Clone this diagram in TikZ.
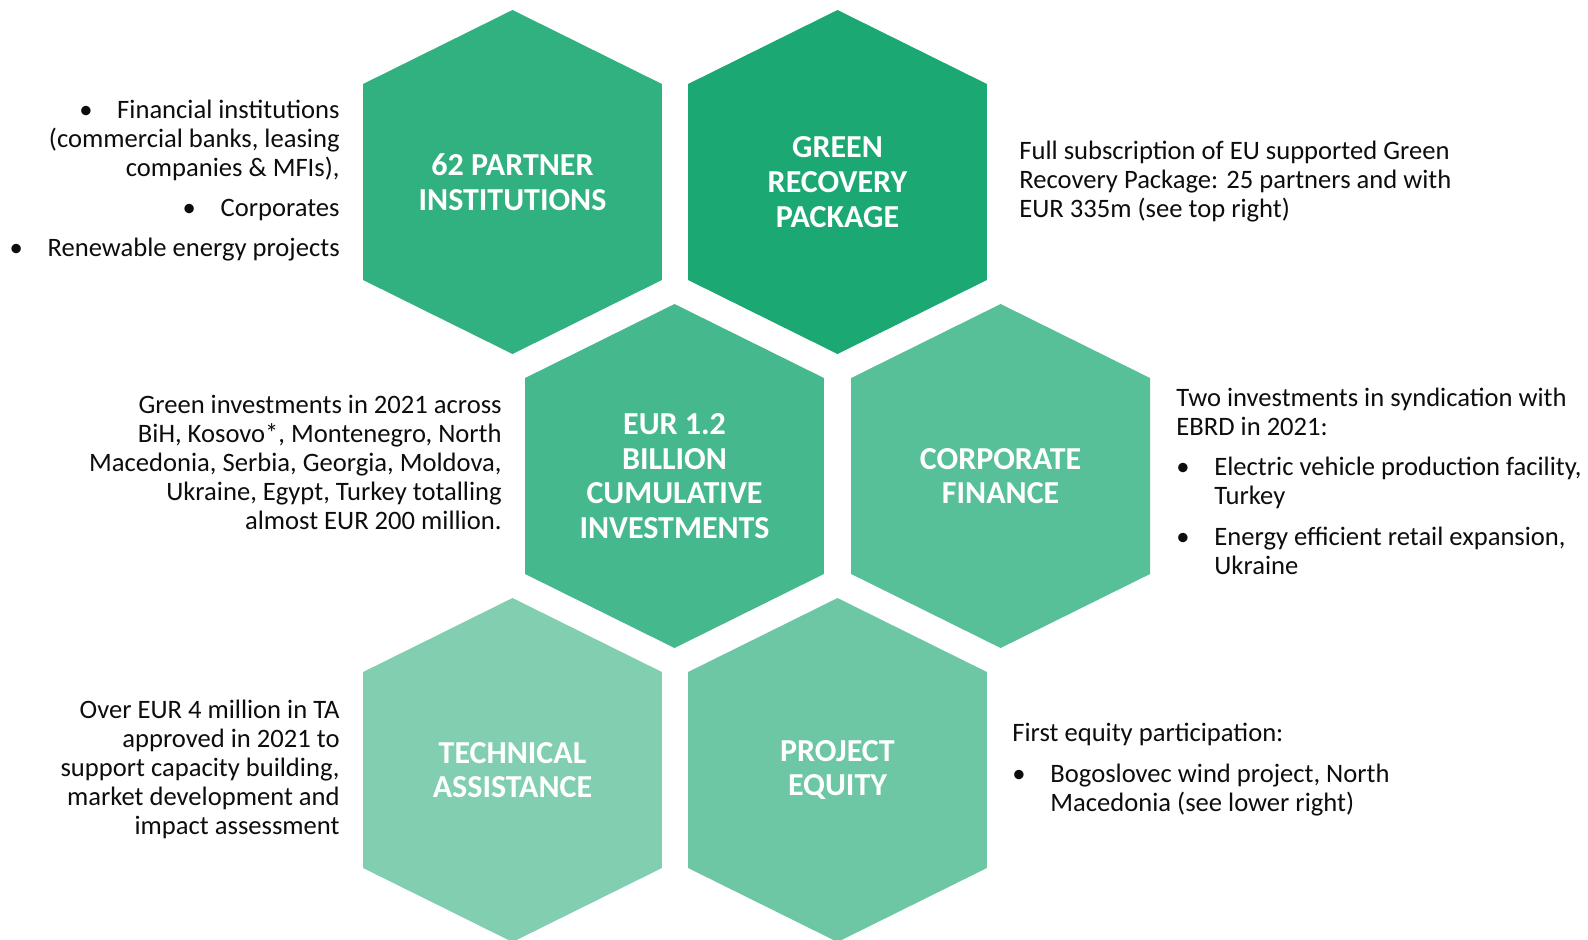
\documentclass[tikz,border=0pt]{standalone}
\usepackage{fontspec}
\setmainfont{Carlito}
\definecolor{hexA}{RGB}{49,176,128}
\definecolor{hexB}{RGB}{27,168,115}
\definecolor{hexC}{RGB}{70,184,141}
\definecolor{hexD}{RGB}{88,192,153}
\definecolor{hexE}{RGB}{129,207,176}
\definecolor{hexF}{RGB}{109,199,165}
\definecolor{txt}{RGB}{13,13,13}
\newcommand\hexcell[3]{%
  \fill[#3] ($(#1,#2)+(0,-172)$) -- ++(149.4,74) -- ++(0,196) -- ++(-149.4,74)
    -- ++(-149.4,-74) -- ++(0,-196) -- cycle;}
\newcommand\bul{\makebox[19pt][l]{\textbullet}}
\usetikzlibrary{calc}
\begin{document}
\begin{tikzpicture}[x=0.5pt,y=-0.5pt,
  hextext/.style={text=white,font=\bfseries\fontsize{16}{17.4}\selectfont,align=center,inner sep=0pt},
  side/.style={text=txt,font=\fontsize{13.3}{14.45}\selectfont,inner sep=0pt}]
\useasboundingbox (0,0) rectangle (1588,939);
\clip (0,0) rectangle (1588,939);
\hexcell{512.5}{182}{hexA}
\hexcell{837.5}{182}{hexB}
\hexcell{674.5}{476}{hexC}
\hexcell{1000.6}{476}{hexD}
\hexcell{512.5}{770}{hexE}
\hexcell{837.5}{770}{hexF}
\node[hextext] (tA) at (512.5,182) {62 PARTNER\\INSTITUTIONS};
\node[hextext] (tB) at (837.5,182) {GREEN\\RECOVERY\\PACKAGE};
\node[hextext] (tC) at (674.5,476) {EUR 1.2\\BILLION\\CUMULATIVE\\INVESTMENTS};
\node[hextext] (tD) at (1000.6,476) {CORPORATE\\FINANCE};
\node[hextext] (tE) at (512.5,770) {TECHNICAL\\ASSISTANCE};
\node[hextext] (tF) at (837.5,770) {PROJECT\\EQUITY};
\node[side,anchor=base east,align=right] (sA) at (340,256.5)
  {\bul Financial institutions\\(commercial banks, leasing\\companies \& MFIs),\\[5.4pt]
   \bul Corporates\\[5.6pt]\bul Renewable energy projects};
\node[side,anchor=base west,align=left] (sB) at (1019,217)
  {Full subscription of EU supported Green\\Recovery Package: 25 partners and with\\EUR 335m (see top right)};
\node[side,anchor=base east,align=right] (sC) at (502,529)
  {Green investments in 2021 across\\BiH, Kosovo*, Montenegro, North\\Macedonia, Serbia, Georgia, Moldova,\\Ukraine, Egypt, Turkey totalling\\almost EUR 200 million.};
\node[side,anchor=base west,align=left] (sD) at (1176,574)
  {Two investments in syndication with\\EBRD in 2021:\\[5.8pt]
   \bul Electric vehicle production facility,\\\hspace*{19pt}Turkey\\[5.8pt]
   \bul Energy efficient retail expansion,\\\hspace*{19pt}Ukraine};
\node[side,anchor=base east,align=right] (sE) at (340,834)
  {Over EUR 4 million in TA\\approved in 2021 to\\support capacity building,\\market development and\\impact assessment};
\node[side,anchor=base west,align=left] (sF) at (1012,811)
  {First equity participation:\\[5.8pt]\bul Bogoslovec wind project, North\\\hspace*{19pt}Macedonia (see lower right)};
\end{tikzpicture}
\end{document}
